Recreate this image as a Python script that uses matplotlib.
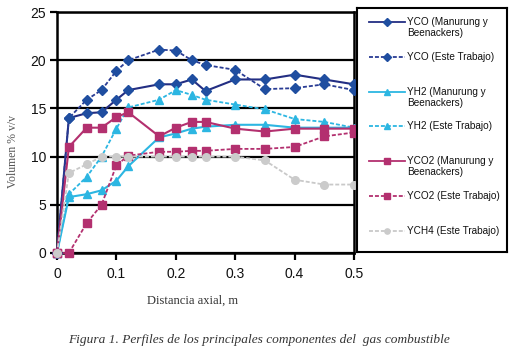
import matplotlib
matplotlib.use("Agg")
import matplotlib.pyplot as plt
from matplotlib.lines import Line2D

# ---- data ----
x = [0, 0.02, 0.05, 0.075, 0.1, 0.12, 0.172, 0.2, 0.227, 0.25, 0.3, 0.35, 0.4, 0.45, 0.5]
yco_man = [0, 14.0, 14.5, 14.6, 15.9, 16.9, 17.5, 17.5, 18.0, 16.8, 18.0, 18.0, 18.5, 18.0, 17.5]
yco_est = [0, 14.0, 15.9, 16.9, 18.9, 20.0, 21.1, 21.0, 20.0, 19.5, 19.0, 17.0, 17.1, 17.5, 16.9]
yh2_man = [0, 5.8, 6.1, 6.5, 7.5, 9.0, 12.0, 12.4, 12.9, 13.1, 13.3, 13.3, 13.0, 13.0, 13.0]
yh2_est = [0, 6.1, 7.9, 10.0, 12.9, 15.1, 15.9, 16.9, 16.4, 15.9, 15.4, 14.9, 13.9, 13.6, 13.0]
yco2_man = [0, 11.0, 13.0, 13.0, 14.1, 14.6, 12.1, 13.0, 13.6, 13.6, 12.9, 12.6, 12.9, 12.9, 12.9]
yco2_est = [0, 0, 3.1, 5.0, 9.1, 10.1, 10.5, 10.5, 10.6, 10.6, 10.8, 10.8, 11.0, 12.1, 12.5]
ych4_est = [0, 8.3, 9.2, 10.0, 10.0, 10.0, 10.0, 10.0, 10.0, 10.0, 10.0, 9.6, 7.6, 7.1, 7.1]

labels = ["YCO (Manurung y\nBeenackers)", "YCO (Este Trabajo)",
          "YH2 (Manurung y\nBeenackers)", "YH2 (Este Trabajo)",
          "YCO2 (Manurung y\nBeenackers)", "YCO2 (Este Trabajo)",
          "YCH4 (Este Trabajo)"]
series = [yco_man, yco_est, yh2_man, yh2_est, yco2_man, yco2_est, ych4_est]

xticks = [0, 0.1, 0.2, 0.3, 0.4, 0.5]
xticklabels = ["0", "0.1", "0.2", "0.3", "0.4", "0.5"]
yticks = [0, 5, 10, 15, 20, 25]

# ---- styles ----
dash = (0, (2.2, 1.1))
styles = [
    dict(color="#232E83", mfc="#1F4EA0", mec="#1F4EA0", marker="D", ms=5.0, ls="-", lw=1.5),
    dict(color="#2A3C94", mfc="#1F4EA0", mec="#1F4EA0", marker="D", ms=5.0, ls=dash, lw=1.3),
    dict(color="#2CB6E2", mfc="#2CB6E2", mec="#2CB6E2", marker="^", ms=5.5, ls="-", lw=1.5),
    dict(color="#2CB6E2", mfc="#2CB6E2", mec="#2CB6E2", marker="^", ms=5.5, ls=dash, lw=1.3),
    dict(color="#B3306F", mfc="#B3306F", mec="#B3306F", marker="s", ms=5.5, ls="-", lw=1.5),
    dict(color="#B3306F", mfc="#B3306F", mec="#B3306F", marker="s", ms=5.5, ls=dash, lw=1.3),
    dict(color="#C9C9C9", mfc="#CBCBCB", mec="#CBCBCB", marker="o", ms=5.5, ls=dash, lw=1.3),
]

fig = plt.figure(figsize=(5.13, 3.51), dpi=100)
fig.patch.set_facecolor("white")
W, H = 513, 351
ax = fig.add_axes([57 / W, 1 - 253 / H, 297 / W, 241 / H])

for ys, st in zip(series, styles):
    ax.plot(x, ys, color=st["color"], ls=st["ls"], lw=st["lw"], marker=st["marker"],
            ms=st["ms"], mfc=st["mfc"], mec=st["mec"], zorder=3, clip_on=False)

ax.set_xlim(0, 0.5)
ax.set_ylim(0, 25)
ax.set_xticks(xticks)
ax.set_xticklabels(xticklabels)
ax.set_yticks(yticks)
ax.grid(axis="y", color="black", lw=1.6, zorder=1)
ax.set_axisbelow(True)
for sp in ax.spines.values():
    sp.set_linewidth(1.8)
    sp.set_color("black")
    sp.set_zorder(2)
ax.tick_params(axis="both", direction="out", length=5, width=1.6, colors="black",
               labelsize=10, pad=3)
ax.tick_params(axis="x", pad=5)
for lab in ax.get_xticklabels() + ax.get_yticklabels():
    lab.set_fontfamily("Liberation Sans")
    lab.set_color("#111111")

ax.set_ylabel("Volumen % v/v", family="Liberation Serif", fontsize=8.5, color="#555555")
ax.yaxis.set_label_coords(-0.128, 0.42)
ax.set_xlabel("Distancia axial, m", family="Liberation Serif", fontsize=9, color="#333333")
ax.xaxis.set_label_coords(0.455, -0.175)

fig.text(259 / W, 1 - 340 / H,
         "Figura 1. Perfiles de los principales componentes del  gas combustible",
         family="Liberation Serif", style="italic", fontsize=9.6, color="#333333",
         ha="center", va="center")

# ---- legend (boxed, outside the plot) ----
lx0, ly0, lw_, lh_ = 357, 8, 150, 244
lax = fig.add_axes([lx0 / W, 1 - (ly0 + lh_) / H, lw_ / W, lh_ / H])
lax.set_xlim(0, lw_)
lax.set_ylim(lh_, 0)
lax.set_xticks([])
lax.set_yticks([])
for sp in lax.spines.values():
    sp.set_linewidth(1.5)
    sp.set_color("black")
for i, (lab, st) in enumerate(zip(labels, styles)):
    yy = 14 + i * 34.8
    lax.add_line(Line2D([12, 48], [yy, yy], color=st["color"], ls=st["ls"], lw=1.3))
    lax.plot([30], [yy], marker=st["marker"], ms=3.8, mfc=st["mfc"], mec=st["mec"],
             ls="none")
    for j, t in enumerate(lab.split("\n")):
        lax.text(50, yy + j * 11, t, family="Liberation Sans", fontsize=7.2,
                 color="#111111", ha="left", va="center")

fig.savefig("out.png", dpi=100, facecolor="white")
